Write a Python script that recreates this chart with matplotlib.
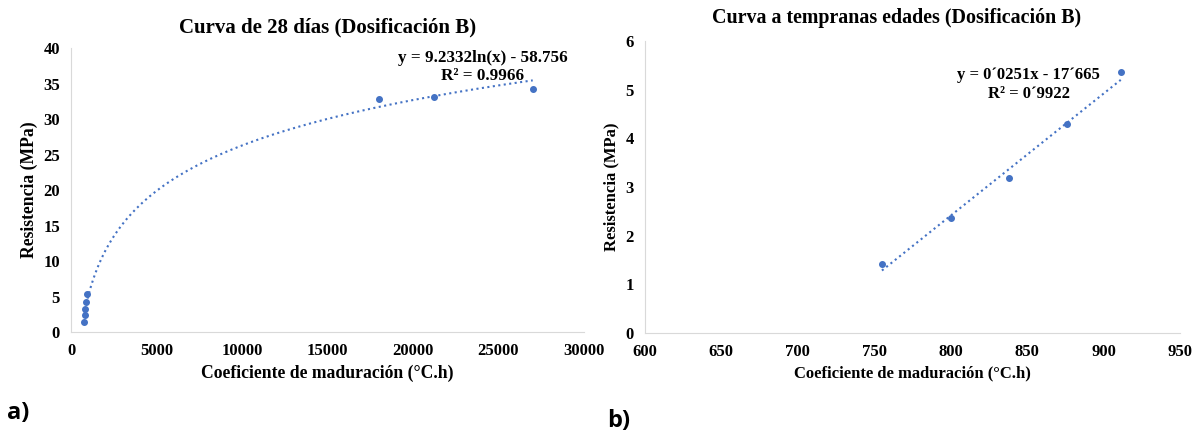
import numpy as np
import matplotlib
matplotlib.use("Agg")
import matplotlib.pyplot as plt

# maturity coefficient (°C.h) vs strength (MPa)
early_x = [755, 800, 838, 876, 911]
early_y = [1.42, 2.37, 3.18, 4.30, 5.37]
late_x = [18050, 21220, 27020]
late_y = [32.85, 33.05, 34.2]

left_xticks = [0, 5000, 10000, 15000, 20000, 25000, 30000]
left_yticks = [0, 5, 10, 15, 20, 25, 30, 35, 40]
right_xticks = [600, 650, 700, 750, 800, 850, 900, 950]
right_yticks = [0, 1, 2, 3, 4, 5, 6]

BLUE = "#4472C4"
SERIF = ["Liberation Serif", "DejaVu Serif"]
SANS = ["Open Sans", "DejaVu Sans"]
plt.rcParams["font.family"] = SERIF
plt.rcParams["font.weight"] = "bold"

fig = plt.figure(figsize=(11.96, 4.36), dpi=100)
ax1 = fig.add_axes([0.0594, 0.2385, 0.4286, 0.651])
ax2 = fig.add_axes([0.539, 0.236, 0.448, 0.67])


def style(ax, xt, yt, label_size):
    for s in ("top", "right"):
        ax.spines[s].set_visible(False)
    for s in ("left", "bottom"):
        ax.spines[s].set_color("#d9d9d9")
    ax.set_xticks(xt)
    ax.set_yticks(yt)
    ax.set_xlim(xt[0], xt[-1])
    ax.set_ylim(yt[0], yt[-1])
    ax.tick_params(length=0, labelsize=12, pad=8)
    for lab in ax.get_xticklabels() + ax.get_yticklabels():
        lab.set_fontweight("bold")
    ax.set_ylabel("Resistencia (MPa)", fontsize=label_size, fontweight="bold")
    ax.set_xlabel("Coeficiente de maduración (°C.h)", fontsize=label_size, fontweight="bold")


# a) 28-day curve, log fit
all_x = np.array(early_x + late_x, dtype=float)
all_y = np.array(early_y + late_y)
xs = np.linspace(all_x.min(), all_x.max(), 400)
ax1.plot(xs, 9.2332 * np.log(xs) - 58.756, ls=":", color=BLUE, lw=1.5)
ax1.plot(all_x, all_y, "o", color=BLUE, ms=4)
style(ax1, left_xticks, left_yticks, 12.7)
ax1.text(24100, 37.3, "y = 9.2332ln(x) - 58.756\nR² = 0.9966", ha="center", va="center",
         fontsize=12.3, fontweight="bold", linespacing=1.15)
ax1.set_title("Curva de 28 días (Dosificación B)", fontsize=15, fontweight="bold", pad=11)

# b) early ages, linear fit
ex = np.array(early_x, dtype=float)
ax2.plot(ex, 0.0251 * ex - 17.665, ls=":", color=BLUE, lw=1.5)
ax2.plot(ex, early_y, "o", color=BLUE, ms=4)
style(ax2, right_xticks, right_yticks, 12)
ax2.text(851, 5.1, "y = 0\u00b40251x - 17\u00b4665\nR² = 0\u00b49922", ha="center", va="center",
         fontsize=12, fontweight="bold", linespacing=1.25)
ax2.set_title("Curva a tempranas edades (Dosificación B)", fontsize=14.4, fontweight="bold", pad=13, x=0.47)

fig.text(0.006, 0.04, "a)", fontsize=17, fontweight="bold", family=SANS)
fig.text(0.508, 0.02, "b)", fontsize=17, fontweight="bold", family=SANS)

fig.savefig("out.png", dpi=100)
